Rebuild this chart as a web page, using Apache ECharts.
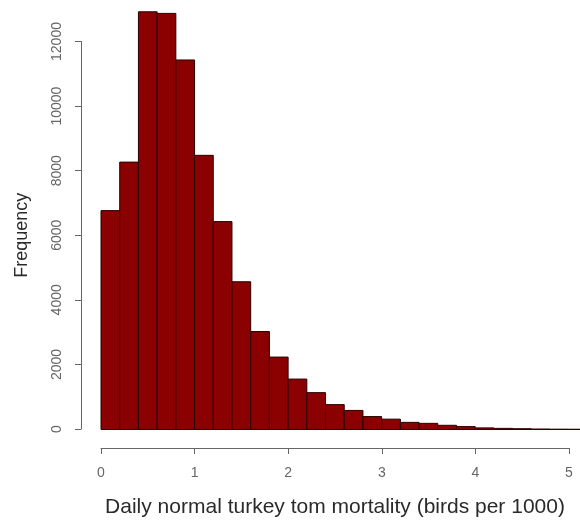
<!DOCTYPE html>
<html>
<head>
<meta charset="utf-8">
<script src="https://cdn.jsdelivr.net/npm/echarts@6/dist/echarts.min.js"></script>
<style>html,body{margin:0;padding:0;background:#fff}#c{width:580px;height:523px}</style>
</head>
<body>
<div id="c"></div>
<script>
const binStarts = [0.0,0.2,0.4,0.6,0.8,1.0,1.2,1.4,1.6,1.8,2.0,2.2,2.4,2.6,2.8,3.0,3.2,3.4,3.6,3.8,4.0,4.2,4.4,4.6,4.8,5.0];
const binWidth = 0.2;
const counts = [6770,8270,12920,12870,11430,8480,6430,4570,3030,2240,1560,1140,770,590,400,320,220,190,130,90,50,35,25,15,10,8];
const xTicks = [0,1,2,3,4,5];
const yTicks = [0,2000,4000,6000,8000,10000,12000];
const xTitle = 'Daily normal turkey tom mortality (birds per 1000)';
const yTitle = 'Frequency';

const font = 'Liberation Sans, Arial, sans-serif';
const chart = echarts.init(document.getElementById('c'), null, {renderer: 'canvas'});
const data = binStarts.map((s, i) => [s, s + binWidth, counts[i]]);

chart.setOption({
  animation: false,
  grid: [
    {left: 101, right: 0, top: 9.2, bottom: 93.5},
    {left: 101, right: 11, top: 41.5, bottom: 93.5}
  ],
  xAxis: [
    {gridIndex: 0, type: 'value', min: 0, max: 5.12, show: false},
    {gridIndex: 1, type: 'value', min: xTicks[0], max: xTicks[xTicks.length-1], interval: 1, offset: 19,
     axisLine: {show: true, onZero: false, lineStyle: {color: '#666', width: 1}},
     axisTick: {show: true, length: 6, lineStyle: {color: '#666'}},
     splitLine: {show: false},
     axisLabel: {color: '#666', fontSize: 14, fontFamily: font, margin: 18, formatter: v => String(v)},
     name: xTitle, nameLocation: 'middle', nameGap: 49,
     nameTextStyle: {color: '#2a2a2a', fontSize: 21, fontFamily: font}}
  ],
  yAxis: [
    {gridIndex: 0, type: 'value', min: 0, max: 13000, show: false},
    {gridIndex: 1, type: 'value', min: yTicks[0], max: yTicks[yTicks.length-1], interval: 2000, offset: 20,
     axisLine: {show: true, onZero: false, lineStyle: {color: '#666', width: 1}},
     axisTick: {show: true, length: 6, lineStyle: {color: '#666'}},
     splitLine: {show: false},
     axisLabel: {color: '#666', fontSize: 14, fontFamily: font, rotate: 90, margin: 17, formatter: v => String(v)},
     name: yTitle, nameLocation: 'middle', nameGap: 50,
     nameTextStyle: {color: '#2a2a2a', fontSize: 18, fontFamily: font}}
  ],
  series: [{
    type: 'custom',
    xAxisIndex: 0, yAxisIndex: 0,
    data: data,
    renderItem: function (params, api) {
      const p0 = api.coord([api.value(0), 0]);
      const p1 = api.coord([api.value(1), api.value(2)]);
      return {
        type: 'rect',
        shape: {x: p0[0], y: p1[1], width: p1[0] - p0[0], height: p0[1] - p1[1]},
        style: {fill: '#8B0000', stroke: '#2a0000', lineWidth: 1}
      };
    }
  }]
});
</script>
</body>
</html>
